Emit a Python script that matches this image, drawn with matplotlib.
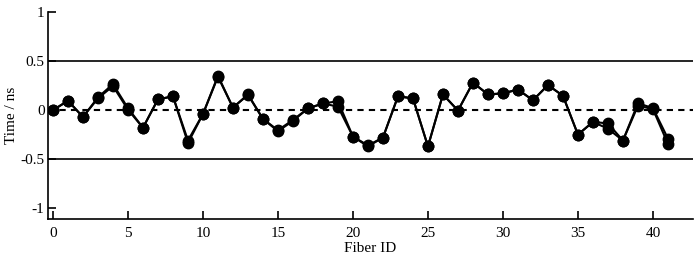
import matplotlib.pyplot as plt
import numpy as np

plt.rcParams['font.family'] = ['Liberation Serif', 'DejaVu Serif']

# fiber ids and the two timing series (ns)
fiber_id = list(range(42))
time_a = [0.0, 0.095, -0.07, 0.13, 0.265, 0.02, -0.18, 0.11, 0.14, -0.31,
          -0.04, 0.35, 0.025, 0.16, -0.09, -0.205, -0.10, 0.017, 0.068, 0.09,
          -0.27, -0.36, -0.28, 0.14, 0.12, -0.37, 0.16, -0.005, 0.28, 0.16,
          0.17, 0.21, 0.10, 0.255, 0.146, -0.25, -0.12, -0.136, -0.31, 0.07,
          0.02, -0.29]
time_b = [0.0, 0.095, -0.07, 0.12, 0.245, 0.005, -0.18, 0.11, 0.14, -0.335,
          -0.04, 0.34, 0.025, 0.155, -0.09, -0.215, -0.11, 0.017, 0.068, 0.035,
          -0.27, -0.37, -0.28, 0.14, 0.12, -0.37, 0.16, -0.005, 0.28, 0.16,
          0.17, 0.21, 0.10, 0.255, 0.146, -0.25, -0.12, -0.19, -0.31, 0.045,
          0.01, -0.345]

fig = plt.figure(figsize=(7, 2.59), dpi=100)
ax = fig.add_axes([0.0686, 0.1544, 0.9214, 0.7993])

ax.axhline(0.5, color='k', lw=1.2)
ax.axhline(-0.5, color='k', lw=1.2)
ax.axhline(0, color='k', lw=1.5, ls=(0, (3, 2.5)))

ax.plot(fiber_id, time_a, color='k', lw=1.5, marker='o', ms=7.5, mfc='k', mec='k')
ax.plot(fiber_id, time_b, color='k', lw=1.5, marker='o', ms=7.5, mfc='k', mec='k')

ax.set_xlim(-0.33, 42.67)
ax.set_ylim(-1.11, 1)
ax.set_xticks([0, 5, 10, 15, 20, 25, 30, 35, 40])
ax.set_yticks([-1, -0.5, 0, 0.5, 1])
ax.set_yticklabels(['-1', '-0.5', '0', '0.5', '1'])
ax.tick_params(direction='in', length=6, width=1.2, labelsize=11)
ax.tick_params(axis='x', pad=6)
ax.tick_params(axis='y', pad=2.5)
ax.spines['top'].set_visible(False)
ax.spines['right'].set_visible(False)
ax.spines['left'].set_linewidth(1.2)
ax.spines['bottom'].set_linewidth(1.2)

ax.set_xlabel('Fiber ID', fontsize=11, labelpad=1)
ax.set_ylabel('Time / ns', fontsize=11, labelpad=2)

fig.savefig('out.png', dpi=100)
